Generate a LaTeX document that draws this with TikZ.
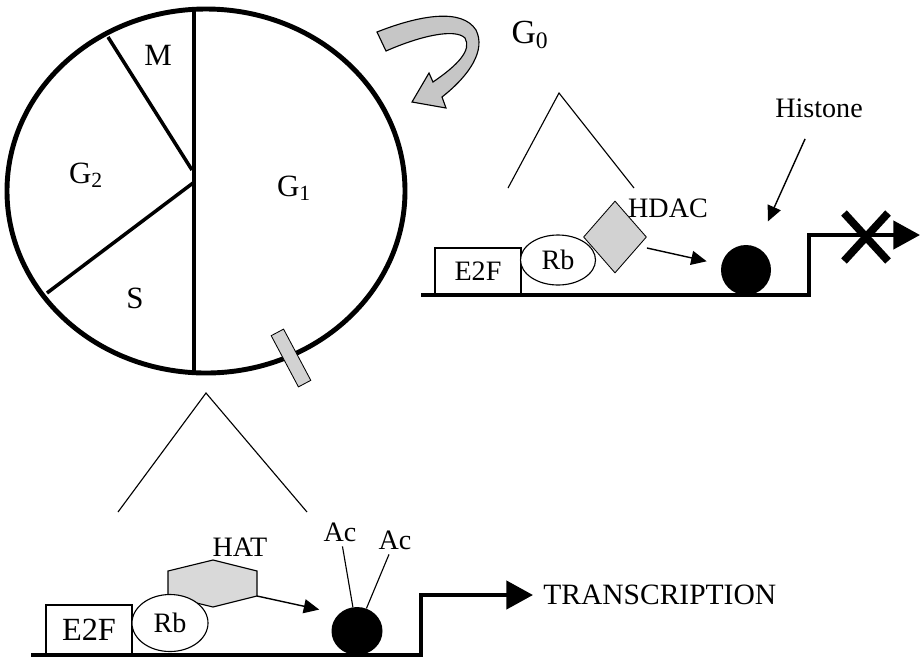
\documentclass[tikz,border=0pt]{standalone}
\usepackage{fontspec}
\setmainfont{Liberation Serif}
\usetikzlibrary{shapes.geometric,arrows.meta}
\begin{document}
\begin{tikzpicture}[x=0.25mm,y=-0.25mm,
  every node/.style={font=\fontsize{20}{24}\selectfont},
  big/.style={font=\fontsize{22}{26}\selectfont},
  box/.style={draw,line width=0.8pt,minimum width=21.5mm,minimum height=11.75mm,inner sep=0pt},
  rb/.style={draw,ellipse,fill=white,line width=0.8pt,inner sep=0pt},
  phase/.style={line width=2.5pt},
  dna/.style={line width=3pt},
  ptr/.style={-{Triangle[length=11pt,width=10pt]},line width=1pt},
  go/.style={dna,-{Triangle[length=19pt,width=20pt]}},
  zoomline/.style={line width=0.8pt}]
\useasboundingbox (0,0) rectangle (923,661);
% cell cycle
\draw[line width=3.5pt] (206,191) ellipse [x radius=49.75mm, y radius=45.5mm];
\draw[phase] (194,9) -- (194,373);
\draw[phase] (108,37) -- (192,170);
\draw[phase] (193,183) -- (47,293);
\node[big] (m) at (158,55) {M};
\node[big] (g2) at (86,175) {G\textsubscript{2}};
\node[big] (g1) at (294,188) {G\textsubscript{1}};
\node[big] (s) at (135,298) {S};
\node[draw,fill=gray!35,line width=0.6pt,minimum width=14.5mm,minimum height=3.5mm,inner sep=0,rotate=-62] (gate) at (291,358) {};
% exit to G0
\draw[fill=gray!45,line width=0.8pt] (377,32) .. controls (420,15) and (462,8) .. (476,30)
  .. controls (486,50) and (470,75) .. (442,97) -- (446,108) -- (412,102) -- (429,73) -- (433,82)
  .. controls (458,65) and (472,50) .. (465,38) .. controls (455,28) and (420,36) .. (386,51) -- cycle;
\node[font=\fontsize{24}{28}\selectfont] (g0) at (530,35) {G\textsubscript{0}};
% upper panel: repressed
\coordinate (ua) at (559,93);
\draw[zoomline] (508,188) -- (ua) -- (634,188);
\node[box] (e2f) at (478,271.5) {E2F};
\node[rb,minimum width=18.75mm,minimum height=12.5mm] (rb) at (558,260) {Rb};
\node[diamond,draw,fill=gray!35,line width=0.6pt,minimum width=15.75mm,minimum height=18mm,inner sep=0] (hdac) at (615,237) {};
\node (hdaclabel) at (668,208) {HDAC};
\node[circle,fill=black,minimum size=12.5mm,inner sep=0] (his) at (746,270) {};
\node (hislabel) at (819,108) {Histone};
\coordinate (us) at (421,295);
\coordinate (ut) at (809,295);
\coordinate (uu) at (809,235);
\coordinate (ue) at (920,235);
\draw[go] (us) -- (ut) -- (uu) -- (ue);
\draw[ptr,shorten >=3.75mm] ([yshift=-2.75mm]hdac.east) -- (his);
\draw[ptr,shorten <=4.5mm,shorten >=7mm] (hislabel) -- (his);
\coordinate (xm) at (866,237);
\draw[line width=5.5pt] ([shift={(-22,-24)}]xm) -- ([shift={(22,24)}]xm)
  ([shift={(-22,24)}]xm) -- ([shift={(22,-24)}]xm);
% lower panel: active
\coordinate (la) at (206,393);
\draw[zoomline] (118,512) -- (la) -- (307,512);
\node[box,minimum height=12.5mm,font=\fontsize{23}{26}\selectfont] (e2f2) at (89,630) {E2F};
\draw[fill=gray!30,line width=0.8pt] (213,560) -- (257,571) -- (257,596) coordinate (hatc)
  -- (213,607) -- (168,596) -- (168,571) -- cycle;
\node[rb,minimum width=19mm,minimum height=14.25mm] (rb2) at (170,623) {Rb};
\node (hat) at (240,547) {HAT};
\node[ellipse,fill=black,minimum width=12.75mm,minimum height=12mm,inner sep=0] (his2) at (357,631) {};
\node (ac1) at (340,532) {Ac};
\node (ac2) at (395,540) {Ac};
\draw[zoomline] (ac1) -- (his2);
\draw[zoomline] (ac2) -- (his2);
\coordinate (ls) at (31,655);
\coordinate (lt) at (421,655);
\coordinate (lu) at (421,595);
\coordinate (le) at (533,595);
\draw[go] (ls) -- (lt) -- (lu) -- (le);
\draw[ptr,shorten >=5mm] (hatc) -- (his2.north west);
\node[anchor=west,inner sep=0,font=\fontsize{21}{25}\selectfont] (tx) at ([xshift=2.5mm]le) {TRANSCRIPTION};
\end{tikzpicture}
\end{document}
